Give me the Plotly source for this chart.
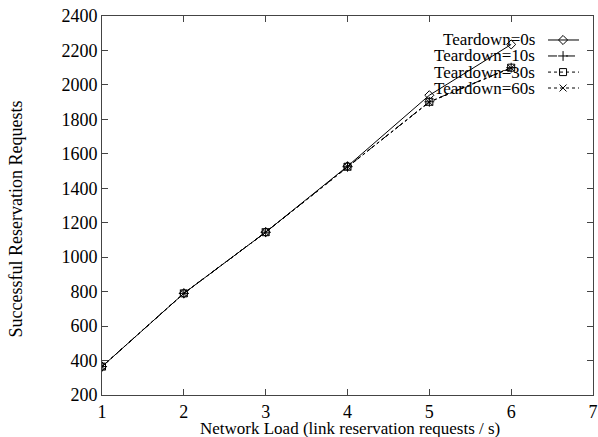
import plotly.graph_objects as go

loads = [1, 2, 3, 4, 5, 6]
series_names = ["Teardown=0s", "Teardown=10s", "Teardown=30s", "Teardown=60s"]
td0 = [365, 790, 1145, 1528, 1940, 2235]
td10 = [365, 790, 1145, 1525, 1902, 2100]
td30 = [365, 790, 1145, 1525, 1902, 2100]
td60 = [365, 790, 1145, 1525, 1900, 2098]
y_ticks = [200, 400, 600, 800, 1000, 1200, 1400, 1600, 1800, 2000, 2200, 2400]
x_ticks = [1, 2, 3, 4, 5, 6, 7]
x_title = "Network Load (link reservation requests / s)"
y_title = "Successful Reservation Requests"

values = [td0, td10, td30, td60]
symbols = ["diamond-open", "cross-thin-open", "square-open", "x-thin-open"]
dashes = ["solid", "dash", "dot", "dot"]

FONT = "Liberation Serif"
fig = go.Figure()
for name, vals, sym, dash in zip(series_names, values, symbols, dashes):
    fig.add_trace(go.Scatter(
        x=loads, y=vals, mode="lines+markers", name=name, showlegend=False,
        line=dict(color="black", width=1, dash=dash),
        marker=dict(symbol=sym, size=7, color="black", line=dict(color="black", width=1)),
    ))

# gnuplot-style legend: text left, sample right (overlay axes in 0..1 space)
row_y = [0.9367, 0.8945, 0.852, 0.81]
for i, (name, sym, dash) in enumerate(zip(series_names, symbols, dashes)):
    fig.add_trace(go.Scatter(
        x=[0.9084, 0.9715], y=[row_y[i], row_y[i]], mode="lines",
        xaxis="x2", yaxis="y2", showlegend=False, hoverinfo="skip",
        line=dict(color="black", width=1, dash=dash),
    ))
    fig.add_trace(go.Scatter(
        x=[0.939], y=[row_y[i]], mode="markers",
        xaxis="x2", yaxis="y2", showlegend=False, hoverinfo="skip",
        marker=dict(symbol=sym, size=7, color="black", line=dict(color="black", width=1)),
    ))
    fig.add_annotation(x=0.886, y=row_y[i], xref="x2", yref="y2", text=name,
                       showarrow=False, xanchor="right", yanchor="middle",
                       font=dict(family=FONT, size=17, color="black"))

fig.add_annotation(x=0.5, y=0, xref="paper", yref="paper", text=x_title,
                   showarrow=False, xanchor="center", yanchor="middle", yshift=-33,
                   xshift=2, font=dict(family=FONT, size=17, color="black"))
fig.add_annotation(x=0, y=0.5, xref="paper", yref="paper", text=y_title, textangle=-90,
                   showarrow=False, xanchor="center", yanchor="middle", xshift=-87,
                   yshift=-14, font=dict(family=FONT, size=18, color="black"))

axis_common = dict(showline=True, linecolor="#444", linewidth=1, mirror="ticks",
                   ticks="inside", ticklen=6, tickcolor="#444", showgrid=False,
                   zeroline=False, automargin=False,
                   tickfont=dict(family=FONT, size=18, color="black"))
fig.update_layout(
    width=598, height=437, plot_bgcolor="white", paper_bgcolor="white",
    margin=dict(l=102, r=5, t=16, b=42),
    font=dict(family=FONT, color="black"),
    xaxis=dict(range=[1, 7], tickvals=x_ticks, **axis_common),
    yaxis=dict(range=[200, 2400], tickvals=y_ticks, **axis_common),
    xaxis2=dict(range=[0, 1], overlaying="x", visible=False, fixedrange=True),
    yaxis2=dict(range=[0, 1], overlaying="y", visible=False, fixedrange=True),
)
fig.write_html("out.html", config={"displayModeBar": False},
               post_script="document.body.style.margin='0';document.body.style.overflow='hidden';")
